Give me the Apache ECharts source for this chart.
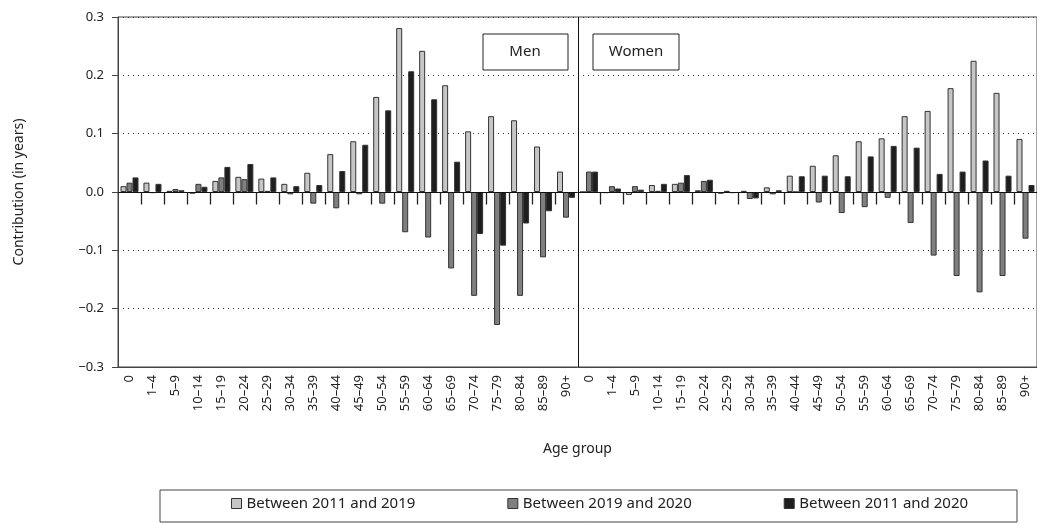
<!DOCTYPE html>
<html>
<head>
<meta charset="utf-8">
<script src="https://cdn.jsdelivr.net/npm/echarts@6/dist/echarts.min.js"></script>
<style>html,body{margin:0;padding:0;background:#fff}#chart{width:1037px;height:523px}</style>
</head>
<body>
<div id="chart"></div>
<script>
var ageGroups = ['0','1–4','5–9','10–14','15–19','20–24','25–29','30–34','35–39','40–44','45–49','50–54','55–59','60–64','65–69','70–74','75–79','80–84','85–89','90+'];
var seriesNames = ['Between 2011 and 2019', 'Between 2019 and 2020', 'Between 2011 and 2020'];
// men then women
var men2011to2019 = [0.010,0.016,0.002,-0.003,0.019,0.026,0.023,0.014,0.033,0.065,0.087,0.163,0.281,0.242,0.183,0.104,0.130,0.123,0.078,0.035];
var men2019to2020 = [0.016,-0.002,0.005,0.014,0.025,0.022,0.002,-0.004,-0.020,-0.028,-0.004,-0.020,-0.069,-0.078,-0.131,-0.178,-0.228,-0.178,-0.112,-0.044];
var men2011to2020 = [0.025,0.014,0.003,0.009,0.043,0.048,0.025,0.010,0.012,0.036,0.081,0.140,0.207,0.159,0.052,-0.072,-0.092,-0.054,-0.033,-0.010];
var women2011to2019 = [0.000,-0.002,-0.005,0.012,0.014,0.003,-0.003,0.002,0.008,0.028,0.045,0.063,0.087,0.092,0.130,0.139,0.178,0.225,0.170,0.091];
var women2019to2020 = [0.035,0.010,0.010,0.002,0.016,0.019,0.002,-0.012,-0.004,0.000,-0.018,-0.036,-0.026,-0.010,-0.053,-0.109,-0.144,-0.172,-0.144,-0.080];
var women2011to2020 = [0.035,0.006,0.004,0.014,0.029,0.021,-0.002,-0.011,0.003,0.027,0.028,0.027,0.061,0.079,0.076,0.031,0.035,0.054,0.028,0.012];

var categories = ageGroups.concat(ageGroups);
var colors = ['#c6c6c6', '#7f7f7f', '#1e1e1e'];
var values = [
    men2011to2019.concat(women2011to2019),
    men2019to2020.concat(women2019to2020),
    men2011to2020.concat(women2011to2020)
];
var font = 'Noto Sans';

var chart = echarts.init(document.getElementById('chart'));
var series = [];
for (var i = 0; i < 3; i++) {
    series.push({
        name: seriesNames[i],
        type: 'bar',
        data: values[i],
        barWidth: 6,
        barGap: '0%',
        itemStyle: {color: colors[i], borderColor: '#333', borderWidth: 1},
        z: 3,
        animation: false
    });
}
// zero line, ticks below it at category boundaries, and Men/Women divider
series.push({
    type: 'custom',
    silent: true,
    clip: false,
    z: 4,
    animation: false,
    data: categories.map(function (c, idx) { return [idx, 0]; }),
    renderItem: function (params, api) {
        var idx = api.value(0);
        var p = api.coord([idx, 0]);
        var half = api.size([1, 0])[0] / 2;
        var cs = params.coordSys;
        var x = Math.round(p[0] - half) + 0.5;
        var y = Math.round(p[1]) + 0.5;
        var kids = [];
        if (idx === 20) {
            kids.push({type: 'line', shape: {x1: x, y1: cs.y, x2: x, y2: cs.y + cs.height},
                       style: {stroke: '#111', lineWidth: 1}});
        } else if (idx > 0) {
            kids.push({type: 'line', shape: {x1: x, y1: y, x2: x, y2: y + 12},
                       style: {stroke: '#222', lineWidth: 1.3}});
        }
        if (idx === 0) {
            kids.push({type: 'line', shape: {x1: cs.x, y1: y, x2: cs.x + cs.width, y2: y},
                       style: {stroke: '#111', lineWidth: 1}});
        }
        return {type: 'group', children: kids};
    }
});

chart.setOption({
    textStyle: {fontFamily: font, color: '#222'},
    grid: {left: 118, right: -7, top: 17, bottom: 156, show: true, borderColor: '#444', borderWidth: 1},
    legend: {
        data: seriesNames,
        bottom: 7,
        left: 226,
        itemGap: 92,
        itemWidth: 10,
        itemHeight: 10,
        icon: 'rect',
        textStyle: {fontFamily: font, fontSize: 15, color: '#222'},
        itemStyle: {borderColor: '#333', borderWidth: 1}
    },
    xAxis: {
        type: 'category',
        data: categories,
        axisLine: {onZero: false, lineStyle: {color: '#444'}},
        axisTick: {show: false},
        axisLabel: {rotate: 90, interval: 0, fontSize: 13, color: '#222', margin: 8, fontFamily: font},
        name: 'Age group',
        nameLocation: 'middle',
        nameGap: 75,
        nameTextStyle: {fontSize: 14, color: '#222', fontFamily: font}
    },
    yAxis: {
        type: 'value',
        min: -0.3,
        max: 0.3,
        interval: 0.1,
        axisLine: {show: true, lineStyle: {color: '#444'}},
        axisTick: {show: true, length: 6, lineStyle: {color: '#444'}},
        axisLabel: {
            fontSize: 13, color: '#222', margin: 14,
            formatter: function (v) {
                var s = Math.abs(v) < 1e-9 ? '0.0' : Math.abs(v).toFixed(1);
                return v < -1e-9 ? '−' + s : s;
            }
        },
        splitLine: {show: true, lineStyle: {type: [1, 4], color: '#333'}},
        name: 'Contribution (in years)',
        nameLocation: 'middle',
        nameGap: 92,
        nameTextStyle: {fontSize: 14, color: '#222', fontFamily: font}
    },
    graphic: [
        {type: 'rect', shape: {x: 483, y: 34, width: 85, height: 36},
         style: {fill: '#fff', stroke: '#222', lineWidth: 1}, z: 100},
        {type: 'text', x: 525, y: 52, z: 101,
         style: {text: 'Men', font: '15px "Noto Sans"', fill: '#222', align: 'center', verticalAlign: 'middle'}},
        {type: 'rect', shape: {x: 593, y: 34, width: 86, height: 36},
         style: {fill: '#fff', stroke: '#222', lineWidth: 1}, z: 100},
        {type: 'text', x: 636, y: 52, z: 101,
         style: {text: 'Women', font: '15px "Noto Sans"', fill: '#222', align: 'center', verticalAlign: 'middle'}},
        {type: 'rect', shape: {x: 160, y: 490, width: 857, height: 32},
         style: {fill: 'none', stroke: '#444', lineWidth: 1}, z: 0}
    ],
    series: series
});
</script>
</body>
</html>
